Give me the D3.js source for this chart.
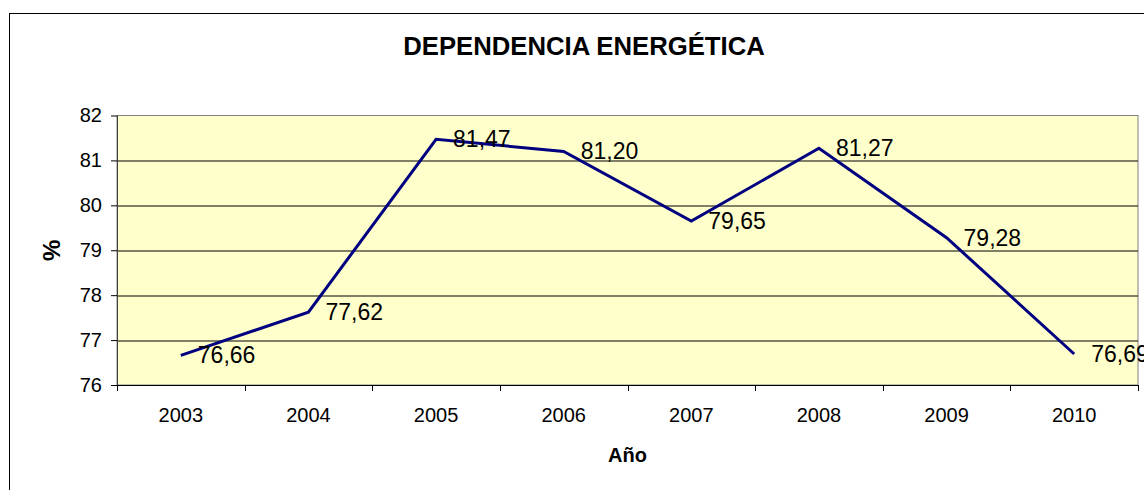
<!DOCTYPE html>
<html>
<head>
<meta charset="utf-8">
<script src="https://cdn.jsdelivr.net/npm/d3@7"></script>
<style>
  body { margin: 0; background: #fff; }
  svg { display: block; font-family: "Liberation Sans", Arial, sans-serif; }
  .domain { display: none; }
</style>
</head>
<body>
<div id="chart"></div>
<script>
const years = ['2003', '2004', '2005', '2006', '2007', '2008', '2009', '2010'];
const dependencia = [76.66, 77.62, 81.47, 81.20, 79.65, 81.27, 79.28, 76.69];
const yTicks = [76, 77, 78, 79, 80, 81, 82];

const W = 1144, H = 490;
const margin = { top: 115.5, right: 6, bottom: 105, left: 117 };
const width = W - margin.left - margin.right;
const height = H - margin.top - margin.bottom;

const fmt = v => v.toFixed(2).replace('.', ',');

const svg = d3.select('#chart').append('svg')
  .attr('width', W)
  .attr('height', H);

// outer chart frame
svg.append('rect')
  .attr('x', 9.5).attr('y', 13.5)
  .attr('width', W + 20).attr('height', H + 20)
  .attr('fill', '#fff')
  .attr('stroke', '#000')
  .attr('stroke-width', 1);

svg.append('text')
  .attr('x', 584).attr('y', 55)
  .attr('text-anchor', 'middle')
  .style('font-weight', 'bold')
  .style('font-size', '25.7px')
  .text('DEPENDENCIA ENERGÉTICA');

const x = d3.scaleBand().domain(years).range([0, width]).padding(0);
const y = d3.scaleLinear().domain([76, 82]).range([height, 0]);

const g = svg.append('g').attr('transform', `translate(${margin.left},${margin.top})`);

g.append('rect')
  .attr('width', width).attr('height', height)
  .attr('fill', '#FFFFCC')
  .attr('stroke', '#808080')
  .attr('stroke-width', 1);

// gridlines
g.append('g').selectAll('line')
  .data(yTicks.filter(t => t > 76 && t < 82))
  .enter().append('line')
  .attr('x1', 0).attr('x2', width)
  .attr('y1', d => Math.round(y(d)) + 0.5)
  .attr('y2', d => Math.round(y(d)) + 0.5)
  .attr('stroke', '#000')
  .attr('stroke-width', 1);

// y axis
const yAxis = g.append('g')
  .call(d3.axisLeft(y).tickValues(yTicks).tickSize(6).tickPadding(9).tickFormat(d3.format('d')));
yAxis.selectAll('text').style('font-size', '20px').attr('fill', '#000');
yAxis.selectAll('.tick line').attr('stroke', '#000');
g.append('line')
  .attr('x1', 0.5).attr('x2', 0.5).attr('y1', 0).attr('y2', height)
  .attr('stroke', '#404040');

// x axis
const xAxis = g.append('g')
  .attr('transform', `translate(0,${height})`)
  .call(d3.axisBottom(x).tickSize(0).tickPadding(23));
xAxis.selectAll('text').style('font-size', '20px').attr('fill', '#000');
g.append('line')
  .attr('x1', 0).attr('x2', width).attr('y1', height + 0.5).attr('y2', height + 0.5)
  .attr('stroke', '#000');
g.append('g').selectAll('line')
  .data(years.concat(['end']))
  .enter().append('line')
  .attr('x1', d => Math.round(d === 'end' ? width : x(d)) + 0.5)
  .attr('x2', d => Math.round(d === 'end' ? width : x(d)) + 0.5)
  .attr('y1', height).attr('y2', height + 6)
  .attr('stroke', '#000');

// axis titles
svg.append('text')
  .attr('transform', `translate(60,${margin.top + height / 2}) rotate(-90)`)
  .attr('text-anchor', 'middle')
  .style('font-weight', 'bold')
  .style('font-size', '24px')
  .text('%');

svg.append('text')
  .attr('x', margin.left + width / 2).attr('y', 462)
  .attr('text-anchor', 'middle')
  .style('font-weight', 'bold')
  .style('font-size', '20px')
  .text('Año');

// line
const cx = d => x(d) + x.bandwidth() / 2;
const line = d3.line()
  .x((d, i) => cx(years[i]))
  .y(d => y(d));

g.append('path')
  .datum(dependencia)
  .attr('d', line)
  .attr('fill', 'none')
  .attr('stroke', '#000080')
  .attr('stroke-width', 3)
  .attr('stroke-linejoin', 'miter');

g.append('g').selectAll('text')
  .data(dependencia)
  .enter().append('text')
  .attr('x', (d, i) => cx(years[i]) + 17)
  .attr('y', d => y(d))
  .attr('dy', '0.35em')
  .style('font-size', '23px')
  .text(d => fmt(d));
</script>
</body>
</html>
